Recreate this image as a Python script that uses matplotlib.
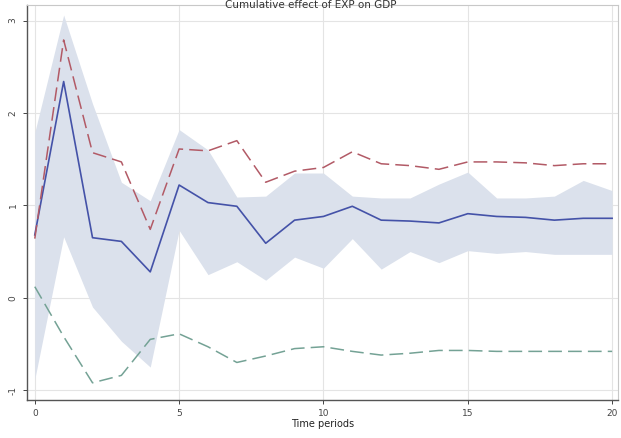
import matplotlib
matplotlib.use("Agg")
import matplotlib.pyplot as plt
import numpy as np

# time periods and impulse response estimates
periods = list(range(21))
irf = [0.68, 2.34, 0.65, 0.61, 0.28, 1.22, 1.03, 0.99, 0.59, 0.84, 0.88,
       0.99, 0.84, 0.83, 0.81, 0.91, 0.88, 0.87, 0.84, 0.86, 0.86]
ci_upper = [1.79, 3.06, 2.10, 1.25, 1.05, 1.82, 1.60, 1.09, 1.10, 1.35, 1.35,
            1.10, 1.08, 1.08, 1.23, 1.36, 1.08, 1.08, 1.10, 1.27, 1.16]
ci_lower = [-0.88, 0.66, -0.10, -0.47, -0.75, 0.73, 0.25, 0.39, 0.19, 0.44, 0.32,
            0.64, 0.31, 0.50, 0.38, 0.51, 0.48, 0.50, 0.47, 0.47, 0.47]
upper_line = [0.64, 2.79, 1.57, 1.47, 0.74, 1.61, 1.59, 1.70, 1.25, 1.37, 1.41,
              1.58, 1.45, 1.43, 1.39, 1.47, 1.47, 1.46, 1.43, 1.45, 1.45]
lower_line = [0.12, -0.42, -0.92, -0.84, -0.45, -0.39, -0.53, -0.70, -0.63, -0.55, -0.53,
              -0.58, -0.62, -0.60, -0.57, -0.57, -0.58, -0.58, -0.58, -0.58, -0.58]

xticks = [0, 5, 10, 15, 20]
yticks = [-1, 0, 1, 2, 3]
title = "Cumulative effect of EXP on GDP"

fig = plt.figure(figsize=(6.21, 4.38), dpi=100)
ax = fig.add_axes([0.043, 0.087, 0.952, 0.902])

ax.fill_between(periods, ci_lower, ci_upper, color="#dbe1ec", linewidth=0, zorder=1)
ax.plot(periods, irf, color="#4452a8", lw=1.2, zorder=3)
ax.plot(periods, upper_line, color="#b25a66", lw=1.1, dashes=(9, 4), zorder=3)
ax.plot(periods, lower_line, color="#74a295", lw=1.1, dashes=(9, 4), zorder=3)

ax.set_xlim(-0.28, 20.2)
ax.set_ylim(-1.105, 3.17)
ax.set_xticks(xticks)
ax.set_yticks(yticks)
ax.set_yticklabels([str(v) for v in yticks], rotation=90, va="center")
ax.grid(True, color="#e4e4e4", lw=0.8, zorder=0)
ax.set_axisbelow(True)
ax.tick_params(axis="both", labelsize=6.5, length=3, width=0.7, colors="#444444")
ax.set_xlabel("Time periods", fontsize=7, labelpad=1, color="#222222")

for axis in ["top", "right"]:
    ax.spines[axis].set_color("#c8c8c8")
for axis in ["left", "bottom"]:
    ax.spines[axis].set_color("#555555")
    ax.spines[axis].set_linewidth(1.0)

fig.text(0.5, 0.999, title, ha="center", va="top", fontsize=7.5, color="#333333")

fig.savefig("out.png", dpi=100)
